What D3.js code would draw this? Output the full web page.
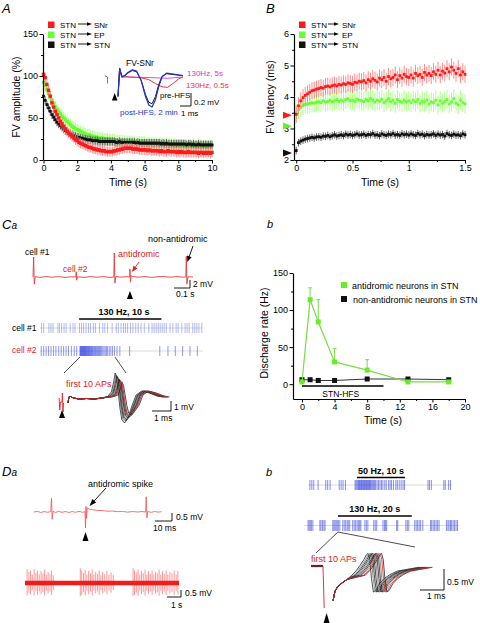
<!DOCTYPE html>
<html><head><meta charset="utf-8">
<script src="https://cdn.jsdelivr.net/npm/d3@7"></script>
<style>body{margin:0;background:#fff}svg{display:block;background:#fff}</style>
</head><body><svg id="c" width="480" height="623"></svg>
<script>
// ================= DATA =================
// Panel A: FV amplitude (%) sampled every 0.1 s, 0..10 s
const stepA = 0.1;
const ampSNr = [102,98,90,83,76,68,63,58,54,50, 46,43,40,37,34,32,30,28,26,24, 23,21,20,19,18,17,16,15,15,14,
  13,13,12,12,11,11,11,10,10,10, 10,10,11,11,12,12,13,13,14,14, 14,14,14,13,13,13,13,12,12,12,
  12,12,11,12,11,11,11,11,11,10, 11,10,10,10,11,10,10,10,10,9, 10,9,10,9,9,9,10,9,9,9, 9,9,8,9,9,8,9,8,9,8, 9];
const ampEP = [92,89,84,79,75,71,67,63,60,57, 55,52,50,48,46,44,42,40,39,37, 36,35,34,33,32,31,30,30,29,28,
  28,27,27,26,26,26,25,25,25,24, 24,24,24,23,23,23,23,23,22,22, 22,22,22,22,21,21,21,21,21,21,
  21,20,20,20,20,20,20,20,19,20, 19,19,19,19,19,19,19,18,19,18, 18,18,18,18,18,18,17,18,17,17, 17,17,17,18,17,17,17,16,17,17, 17];
const ampSTN = [76,71,66,62,58,54,51,48,45,43, 41,39,37,35,34,32,31,30,29,28, 27,27,26,26,25,25,24,24,24,23,
  23,23,23,22,22,22,22,22,22,22, 22,22,22,21,21,22,21,21,21,21, 21,21,21,21,21,20,21,20,20,20,
  20,20,20,20,20,20,20,20,20,20, 19,20,19,20,19,19,19,19,19,19, 19,19,19,19,19,18,19,19,18,19, 18,18,19,18,18,18,18,18,18,18, 18];
const semA = [6, 7, 5];            // SNr, EP, STN
// Panel B: FV latency (ms) sampled every 0.02 s, 0..1.5 s
const stepB = 0.02;
const latSNr = [3.45,3.72,3.88,3.98,4.05,4.1,4.15,4.2,4.22,4.25, 4.27,4.3,4.28,4.33,4.35,4.32,4.36,4.38,4.35,4.4,
  4.38,4.42,4.4,4.45,4.43,4.4,4.47,4.45,4.5,4.48, 4.52,4.45,4.55,4.5,4.58,4.53,4.48,4.6,4.55,4.62,
  4.5,4.65,4.58,4.62,4.7,4.55,4.68,4.6,4.72,4.65, 4.62,4.7,4.6,4.75,4.68,4.72,4.62,4.78,4.7,4.75,
  4.68,4.8,4.72,4.85,4.7,4.82,4.76,4.9,4.8,4.95, 4.85,4.75,4.9,4.7,4.8,4.72];
const latEP = [3.5,3.6,3.68,3.72,3.76,3.78,3.8,3.82,3.8,3.84, 3.85,3.82,3.88,3.84,3.86,3.9,3.85,3.88,3.92,3.86,
  3.9,3.87,3.92,3.95,3.88,3.9,3.86,3.93,3.9,3.88, 3.85,3.92,3.88,3.95,3.9,3.84,3.9,3.87,3.93,3.82,
  3.88,3.95,3.85,3.9,3.8,3.92,3.86,3.83,3.9,3.85, 3.88,3.82,3.9,3.85,3.92,3.8,3.87,3.84,3.9,3.78,
  3.85,3.82,3.9,3.75,3.88,3.8,3.86,3.92,3.78,3.85, 3.95,3.8,3.75,3.9,3.82,3.78];
const latSTN = [2.3,2.55,2.6,2.63,2.66,2.68,2.7,2.72,2.7,2.73, 2.74,2.72,2.76,2.75,2.78,2.74,2.77,2.8,2.76,2.78,
  2.8,2.77,2.82,2.79,2.81,2.78,2.8,2.83,2.79,2.8, 2.82,2.78,2.81,2.8,2.84,2.79,2.8,2.77,2.83,2.8,
  2.78,2.82,2.8,2.84,2.79,2.81,2.78,2.83,2.8,2.82, 2.79,2.83,2.8,2.78,2.84,2.8,2.82,2.77,2.81,2.79,
  2.8,2.83,2.78,2.82,2.79,2.81,2.76,2.84,2.8,2.78, 2.82,2.79,2.8,2.77,2.83,2.8];
const semB = [0.27, 0.3, 0.12];
const preLatency = [3.42, 3.08, 2.22];
const targets = ["SNr", "EP", "STN"];
// Tick labels
const ticksAX = [0,2,4,6,8,10], minorAX = [1,3,5,7,9];
const ticksAY = [0,50,100,150], minorAY = [25,75,125];
const ticksBX = [0,0.5,1,1.5], minorBX = [0.25,0.75,1.25];
const ticksBY = [2,3,4,5,6], minorBY = [2.5,3.5,4.5,5.5];
const ticksCbX = [0,4,8,12,16,20], minorCbX = [2,6,10,14,18];
const ticksCbY = [0,50,100,150], minorCbY = [25,75,125];
// Panel Cb: discharge rate (Hz)
const cbTime = [0,1,2,4,8,13,18];
const cbAnti = [3,114,84,30,19,3,3];
const cbAntiErr = [0,16,30,18,14,0,0];
const cbNon = [6,6,5,5,7,7,6];
const cbHFS = [0,10];
// FV-SNr inset waveforms (ms, mV)
const fvPost = [[0,-0.3],[0.15,0.13],[0.35,0.0],[0.6,0.02],[0.9,0.07],[1.3,0.11],[1.7,0.09],[2.1,-0.05],[2.5,-0.3],[2.8,-0.43],[3.1,-0.46],[3.4,-0.35],[3.7,-0.15],[4.0,0.0],[4.4,0.06],[4.9,0.05],[5.9,0.02]];
const fvPre = [[0,-0.3],[0.15,0.13],[0.35,0.0],[0.6,0.02],[0.9,0.06],[1.3,0.1],[1.7,0.08],[2.1,-0.05],[2.5,-0.27],[2.8,-0.39],[3.1,-0.41],[3.4,-0.3],[3.7,-0.12],[4.0,0.01],[4.4,0.05],[4.9,0.04],[5.9,0.02]];
const fv05 = [[0,-0.3],[0.15,0.12],[0.35,0.0],[1,0.0],[2,-0.01],[2.8,-0.04],[3.4,-0.1],[4.0,-0.15],[4.5,-0.16],[5.0,-0.1],[5.5,-0.03],[5.9,0.0]];
const fv5 = [[0,-0.3],[0.15,0.14],[0.35,0.02],[1,0.0],[3,-0.01],[4.5,-0.02],[5.9,0.0]];
const fvStim = [[-1.2,0.02],[-0.95,0.0],[-0.95,-0.1]];
// Ca: extracellular recording (s, mV)
const caTrace = [[0,0],[0.004,5.0],[0.008,-1.8],[0.014,0.1],[0.04,-0.1],[0.08,0.1],[0.12,-0.05],[0.16,0.1],[0.2,-0.1],[0.24,0.05],[0.268,0],[0.27,1.3],[0.273,-0.8],[0.278,0.05],[0.32,-0.1],[0.36,0.1],[0.4,-0.05],[0.44,0.1],[0.48,-0.1],[0.505,0],[0.508,6.0],[0.512,-1.5],[0.518,0.1],[0.55,-0.05],[0.58,0.1],[0.604,0],[0.606,2.0],[0.609,-1.3],[0.613,0.4],[0.62,0.1],[0.66,-0.05],[0.7,0.1],[0.74,-0.1],[0.78,0.05],[0.82,0.1],[0.86,-0.05],[0.9,0.1],[0.94,-0.05],[0.955,0],[0.958,5.2],[0.962,-1.8],[0.968,0.05],[1.0,0]];
const caStimTime = 0.606;
// Ca rasters (s)
const cell1Spikes = [0.2,0.45,1.1,1.35,1.6,2.2,2.4,2.65,2.95,3.2,3.7,4.05,4.3,4.85,5.1,5.35,5.65,5.95,6.2,6.55,6.8,7.3,7.7,7.95,8.3,8.85,9.35,9.6,9.95,10.25,10.5,10.75,11.1,11.4,11.75,12.05,12.4,12.8,13.35,13.75,14.0,14.25,14.5,14.75,15.0,15.25,15.5,15.95,16.3,16.7,16.95,17.4,17.8,18.05,18.3,18.75,19.0,19.25,19.5,19.85];
const cell2Spikes = [0.15,0.45,0.75,1.05,1.35,1.65,1.95,2.3,2.6,2.9,3.2,3.5,3.85,4.2,4.5,
  4.9,4.96,5.02,5.08,5.14,5.2,5.26,5.32,5.38,5.44,5.5,5.56,5.62,5.68,5.75,5.82,5.89,5.96,6.03,6.1,6.18,6.26,6.34,6.42,6.5,6.6,6.7,6.8,6.9,7.0,7.1,7.2,7.3,7.42,7.55,
  7.7,7.85,8.0,8.15,8.3,8.5,8.7,8.9,9.15,9.45,9.8, 11.0,14.7,15.7,16.6,17.5,18.4,19.3];
const caHFS = [4.8, 14.9];
// Ca: first 10 APs template (ms, mV) and per-trace latency shift / amplitude
const caAP = [[0.32,-0.3],[0.36,0.3],[0.45,0.35],[0.6,0.2],[0.9,0.1],[1.3,0.15],[1.7,0.1],[2.1,0.2],[2.4,0.35],[2.6,0.8],[2.72,1.8],[2.8,2.7],[2.88,2.2],[2.96,0.8],[3.05,-0.8],[3.15,-2.0],[3.3,-2.3],[3.5,-1.6],[3.7,-0.5],[3.9,0.5],[4.2,0.9],[4.6,0.7],[5.0,0.4],[5.3,0.3]];
const caShift = [0,0.04,0.08,0.12,0.16,0.2,0.24,0.3,0.36,0.28];
const caAmp = [1,0.95,0.9,0.86,0.82,0.78,0.74,0.7,0.66,0.72];
const caStim = [[-0.15,0.2],[-0.12,-1.0],[-0.08,-0.2],[0.0,-0.2],[0.02,0.7],[0.05,-1.2],[0.08,-0.3]];
// Da: antidromic spike trace (ms, mV)
const daTrace = [[0,0],[2,0.04],[4,-0.03],[6,0.03],[8,-0.02],[9.8,0.02],[10.3,0.85],[10.7,-0.45],[11.2,0.05],[12.5,-0.03],[14.5,0.04],[16.5,-0.02],[18.5,0.03],[20.5,-0.03],[22.5,0.03],[24.5,-0.02],[26.5,0.04],[28.5,-0.02],[30.0,0.02],[30.3,-1.0],[30.6,0.35],[30.9,-0.4],[31.3,0.25],[32.5,0.18],[34.5,0.14],[37,0.1],[40,0.09],[43,0.05],[46,0.06],[49,0.02],[52,0.04],[55,-0.01],[58,0.03],[61,0.0],[63.5,0.03],[65.7,0.0],[66.0,0.95],[66.4,-0.38],[66.9,0.03],[69,-0.02],[71,0.03],[73,-0.01],[75,0.02]];
const daStimTime = 30.3;
// Da: long recording, spikes [s, up mV, down mV]
const daLongDur = 11;
const daSpikes = [[0.15,1.0,0.9],[0.28,0.8,0.7],[0.4,0.9,0.8],[0.52,0.6,0.5],[0.65,1.0,0.9],[0.78,0.7,0.6],[0.9,0.9,0.85],[1.02,0.6,0.6],[1.15,0.85,0.8],[1.28,0.7,0.65],[1.4,0.95,0.9],[1.52,0.6,0.55],[1.65,0.8,0.75],[1.78,0.65,0.6],[1.9,0.9,0.85],[2.02,0.55,0.5],
  [3.95,1.05,0.95],[4.05,0.9,0.85],[4.18,0.7,0.65],[4.3,0.95,0.9],[4.42,0.6,0.55],[4.55,0.85,0.8],[4.68,0.7,0.6],[4.8,0.95,0.9],[4.92,0.6,0.55],[5.05,0.8,0.75],[5.18,0.65,0.6],[5.3,0.9,0.85],[5.42,0.55,0.5],[5.55,0.8,0.75],[5.7,0.65,0.6],[5.85,0.85,0.8],[6.0,0.6,0.55],[6.15,0.75,0.7],[6.3,0.6,0.5],
  [7.72,1.05,0.95],[7.82,0.9,0.85],[7.95,0.75,0.7],[8.08,0.95,0.9],[8.2,0.6,0.55],[8.32,0.85,0.8],[8.45,0.7,0.65],[8.58,0.95,0.9],[8.7,0.6,0.55],[8.82,0.85,0.8],[8.95,0.65,0.6],[9.08,0.9,0.85],[9.2,0.6,0.55],[9.32,0.8,0.75],[9.45,0.7,0.65],[9.58,0.95,0.9],[9.7,0.6,0.55],[9.82,0.85,0.8],[9.95,0.65,0.6],[10.08,0.9,0.85],[10.2,0.6,0.55],[10.35,0.8,0.75],[10.5,0.7,0.65],[10.65,0.9,0.85],[10.8,0.6,0.55],[10.92,0.85,0.8]];
// Db rasters (s)
const db50Spikes = [0.4,0.8,1.2,2.1, 3.7,4.1,4.6, 6.5,6.9,7.3,7.8, 9.8,10.0,10.2,10.4,10.55,10.7,10.85,11.0,11.15,11.3,11.45,11.6,11.75,11.9,12.05,12.2,12.35,12.5,12.65,12.8,12.95,13.1,13.3,13.5,13.7,13.9,14.1,14.4,14.7,15.0,15.3,15.6,16.0,16.3, 16.8,17.1,17.4,17.8, 18.3,18.6,19.0,19.4,19.8,20.1, 25.0,25.3,25.7, 28.3,28.6,29.3,29.7];
const db50HFS = [10.2, 20.2], db50Dur = 30;
const db130Spikes = [1.1,1.4,1.7,2.0,2.4, 4.3,4.6,5.0,5.4,5.7, 7.8,8.1,8.4,8.7,9.0,9.3,9.7, 10.5,10.9,11.3,11.7,12.0,12.4, 13.2,13.6,14.0,14.4,14.8,15.1,15.4, 16.5,16.9,17.3, 18.9,19.3,19.7, 21.4,21.8,22.1,22.4, 25.1,25.4, 27.6,28.0,28.4, 30.0,30.4,30.8,31.2,31.6,32.2, 34.3,34.6,35.0,35.4,35.8,36.2,36.6, 38.6,39.0,39.3,39.7,40.0,40.4,40.8,41.2,41.6];
const db130HFS = [9.2, 29.2], db130Dur = 42;
// Db: first 10 APs template (ms, mV)
const dbAP = [[0.42,-0.82],[0.5,-0.6],[0.6,-0.5],[0.8,-0.4],[1.0,-0.32],[1.2,-0.22],[1.4,-0.1],[1.55,0.02],[1.7,0.15],[1.8,0.26],[1.88,0.3],[1.95,0.15],[2.02,-0.3],[2.1,-0.62],[2.2,-0.58],[2.35,-0.42],[2.55,-0.3],[2.8,-0.2],[3.1,-0.12],[3.5,-0.08],[4.0,-0.03]];
const dbShift = [0,0.07,0.13,0.19,0.25,0.31,0.37,0.43,0.56,0.5];
const dbPre = [[-0.5,0],[0,0]];
const dbStim = [[0,0],[0.05,-1.0]];

// ================= DRAWING =================
const svg = d3.select("#c");
const FONT = "Liberation Sans, Arial, Helvetica, sans-serif";
const RED = "#ff1a1a", GREEN = "#66ff33", BLACK = "#111";
const seriesCol = [RED, GREEN, BLACK];
const errCol = ["#ff8080", "#a8ff80", "#555"];

function text(x, y, s, o = {}) {
  const t = svg.append("text").attr("x", x).attr("y", y).text(s)
    .attr("font-family", FONT).attr("font-size", o.size || 9).attr("fill", o.color || "#000");
  if (o.anchor) t.attr("text-anchor", o.anchor);
  if (o.weight) t.attr("font-weight", o.weight);
  if (o.italic) t.attr("font-style", "italic");
  if (o.rotate) t.attr("transform", `rotate(-90,${x},${y})`);
  return t;
}
function panelLabel(x, y, big, small) {
  const t = svg.append("text").attr("x", x).attr("y", y).attr("font-family", FONT).attr("font-style", "italic");
  t.append("tspan").text(big).attr("font-size", big === big.toUpperCase() ? 13 : 11);
  if (small) t.append("tspan").text(small).attr("font-size", 10);
}
function axis(type, scale, pos, major, minor, fmt) {
  const mk = type === "x" ? d3.axisBottom : d3.axisLeft;
  const g = svg.append("g").attr("transform", type === "x" ? `translate(0,${pos})` : `translate(${pos},0)`);
  g.call(mk(scale).tickValues(major).tickSize(3.5).tickSizeOuter(0).tickPadding(1.5).tickFormat(fmt || (d => d)));
  if (minor) { const m = g.append("g").call(mk(scale).tickValues(minor).tickSize(2).tickFormat("")); m.select(".domain").remove(); }
  g.attr("font-family", FONT).attr("font-size", 9);
  g.selectAll(".domain").attr("stroke-width", 1.2);
  return g;
}
function arrow(x1, y1, x2, y2, color, h = 6, w = 2.6) {
  const a = Math.atan2(y2 - y1, x2 - x1), c = Math.cos(a), s = Math.sin(a);
  svg.append("line").attr("x1", x1).attr("y1", y1).attr("x2", x2 - h * c * 0.8).attr("y2", y2 - h * s * 0.8)
    .attr("stroke", color).attr("stroke-width", 0.9);
  svg.append("path").attr("d", `M${x2},${y2}L${x2 - h * c + w * s},${y2 - h * s - w * c}L${x2 - h * c - w * s},${y2 - h * s + w * c}Z`).attr("fill", color);
}
function triUp(xc, yTip, w = 6, h = 8, color = "#000") {
  svg.append("path").attr("d", `M${xc},${yTip}L${xc - w / 2},${yTip + h}L${xc + w / 2},${yTip + h}Z`).attr("fill", color);
}
function triRight(xTip, yc, w = 9, h = 7, color = "#000") {
  svg.append("path").attr("d", `M${xTip},${yc}L${xTip - w},${yc - h / 2}L${xTip - w},${yc + h / 2}Z`).attr("fill", color);
}
function trace(data, xs, ys, color, width = 0.9, opacity = 1) {
  svg.append("path").datum(data).attr("d", d3.line().x(d => xs(d[0])).y(d => ys(d[1])))
    .attr("fill", "none").attr("stroke", color).attr("stroke-width", width).attr("stroke-opacity", opacity)
    .attr("stroke-linejoin", "round");
}
function scatter(vals, dt, xs, ys, col, ecol, sem, size) {
  const g = svg.append("g");
  g.selectAll("line").data(vals).join("line")
    .attr("x1", (d, i) => xs(i * dt)).attr("x2", (d, i) => xs(i * dt))
    .attr("y1", d => ys(d - sem)).attr("y2", d => ys(d + sem)).attr("stroke", ecol).attr("stroke-width", 0.9);
  g.selectAll("rect").data(vals).join("rect")
    .attr("x", (d, i) => xs(i * dt) - size / 2).attr("y", d => ys(d) - size / 2)
    .attr("width", size).attr("height", size).attr("fill", col);
}
function legend(x, y0, dy, arrowX1, arrowX2, labelX) {
  targets.forEach((t, i) => {
    const y = y0 + i * dy;
    svg.append("rect").attr("x", x).attr("y", y - 3).attr("width", 6.5).attr("height", 6.5).attr("fill", seriesCol[i]);
    text(x + 12, y + 3.5, "STN", { size: 8 });
    arrow(arrowX1, y - 0.5, arrowX2, y - 0.5, "#000", 5, 1.8);
    text(labelX, y + 3.5, t, { size: 8 });
  });
}
function raster(times, xs, yTop, h, color, op) {
  svg.append("line").attr("x1", xs.range()[0]).attr("x2", xs.range()[1]).attr("y1", yTop + h / 2).attr("y2", yTop + h / 2)
    .attr("stroke", "#c8c8d8").attr("stroke-width", 0.7);
  svg.append("g").selectAll("line").data(times).join("line")
    .attr("x1", d => xs(d)).attr("x2", d => xs(d)).attr("y1", yTop).attr("y2", yTop + h)
    .attr("stroke", color).attr("stroke-width", 1).attr("stroke-opacity", op);
}
function hbar(x1, x2, y, w = 1.6) {
  svg.append("line").attr("x1", x1).attr("x2", x2).attr("y1", y).attr("y2", y).attr("stroke", "#000").attr("stroke-width", w);
}
function scaleBar(xRight, yBottom, wPx, hPx) {
  svg.append("path").attr("d", `M${xRight - wPx},${yBottom}H${xRight}V${yBottom - hPx}`)
    .attr("fill", "none").attr("stroke", "#000").attr("stroke-width", 0.9);
}
function shifted(tpl, shift, amp, split, lo, hi) {
  return tpl.map(([t, v]) => t < split ? [t, v] : [t + shift, (t >= lo && t <= hi) ? v * amp : v]);
}

// ---------- Panel A ----------
panelLabel(2, 13, "A");
const xA = d3.scaleLinear([0, 10], [43.5, 212]);
const yA = d3.scaleLinear([0, 150], [160, 34]);
[ampEP, ampSTN, ampSNr].forEach((vals, k) => {
  const i = [1, 2, 0][k];
  scatter(vals, stepA, xA, yA, seriesCol[i], errCol[i], semA[i], i === 2 ? 2.8 : 3.4);
});
axis("x", xA, 160, ticksAX, minorAX);
axis("y", yA, 43, ticksAY, minorAY);
text(128, 186, "Time (s)", { size: 10.5, anchor: "middle" });
text(20, 97, "FV amplitude (%)", { size: 10.5, anchor: "middle", rotate: true });
legend(48, 24.5, 10, 78, 92, 94);
// inset FV-SNr
const xAi = d3.scaleLinear([0, 1], [118, 129]);
const yAi = d3.scaleLinear([0, 1], [77, 12]);
text(140, 66, "FV-SNr", { size: 8.5, anchor: "middle" });
trace(fvStim, xAi, yAi, "#cc44cc", 1);
trace(fv5, xAi, yAi, "#cc55dd", 1);
trace(fv05, xAi, yAi, "#ee3344", 1);
trace(fvPre, xAi, yAi, "#222", 1);
trace(fvPost, xAi, yAi, "#2233cc", 1.2);
triUp(xAi(-0.3), 93, 5.5, 7.5);
text(187, 76, "130Hz, 5s", { size: 8, color: "#cc44cc" });
text(186, 88, "130Hz, 0.5s", { size: 8, color: "#ee3344" });
text(160, 98, "pre-HFS", { size: 8 });
text(120, 115, "post-HFS, 2 min", { size: 8, color: "#2233cc" });
scaleBar(191, 106, xAi(1) - xAi(0), yAi(0) - yAi(0.2));
text(194, 105, "0.2 mV", { size: 8 });
text(181, 116, "1 ms", { size: 8 });

// ---------- Panel B ----------
panelLabel(266, 13, "B");
const xB = d3.scaleLinear([-0.02, 1.5], [294, 465]);
const yB = d3.scaleLinear([2, 6], [160, 34]);
[latSTN, latEP, latSNr].forEach((vals, k) => {
  const i = [2, 1, 0][k];
  scatter(vals, stepB, xB, yB, seriesCol[i], errCol[i], semB[i], 2.8);
});
axis("x", xB, 160, ticksBX, minorBX);
axis("y", yB, 294, ticksBY, minorBY);
preLatency.forEach((v, i) => triRight(292, yB(v), 9, 7, i === 1 ? "#66ee33" : seriesCol[i]));
text(380, 186, "Time (s)", { size: 10.5, anchor: "middle" });
text(274, 97, "FV latency (ms)", { size: 10.5, anchor: "middle", rotate: true });
legend(299, 24.5, 10, 328, 339, 342);

// ---------- Panel Ca ----------
panelLabel(2, 229, "C", "a");
const xCt = d3.scaleLinear([0, 1], [33, 193]);
const yCt = d3.scaleLinear([0, 1], [277, 273]);
trace(caTrace, xCt, yCt, "#e83a3a", 0.9);
text(25, 255, "cell #1", { size: 8.5 });
text(63, 272, "cell #2", { size: 8.5, color: "#e02020" });
text(118, 257, "antidromic", { size: 9, color: "#e02020" });
arrow(139, 262, xCt(caStimTime) + 2, 272, "#e02020", 6, 2.4);
text(148, 242, "non-antidromic", { size: 9 });
arrow(193, 246, xCt(0.958) + 1, 262, "#000", 6, 2.4);
triUp(xCt(caStimTime), 291, 6, 8);
scaleBar(190, 288, xCt(0.1) - xCt(0), yCt(0) - yCt(2));
text(193, 287, "2 mV", { size: 8.5 });
text(176, 297, "0.1 s", { size: 8.5 });
const xCr = d3.scaleLinear([0, 20], [40, 203]);
text(124, 315, "130 Hz, 10 s", { size: 9, weight: "bold", anchor: "middle" });
hbar(xCr(caHFS[0]), xCr(caHFS[1]), 319);
text(12, 331, "cell #1", { size: 8.5 });
raster(cell1Spikes, xCr, 323, 10, "#6677dd", 0.5);
text(12, 353, "cell #2", { size: 8.5, color: "#e02020" });
raster(cell2Spikes, xCr, 346, 10, "#2233dd", 0.5);
svg.append("line").attr("x1", xCr(cell2Spikes[15])).attr("y1", 357).attr("x2", 64).attr("y2", 373).attr("stroke", "#000").attr("stroke-width", 0.7);
svg.append("line").attr("x1", xCr(9.2)).attr("y1", 357).attr("x2", 126).attr("y2", 373).attr("stroke", "#000").attr("stroke-width", 0.7);
text(66, 387, "first 10 APs", { size: 9, color: "#e02020" });
const xCz = d3.scaleLinear([0, 1], [62, 81]);
const yCz = d3.scaleLinear([0, 1], [400, 390]);
caShift.forEach((s, i) => {
  const col = i === 9 ? "#e02020" : (i % 3 === 1 ? "#777" : "#222");
  trace(shifted(caAP, s, caAmp[i], 2.4, 2.5, 3.6), xCz, yCz, col, 0.8);
});
trace(caStim, xCz, yCz, "#e02020", 0.9);
triUp(xCz(0), 410, 6, 8);
scaleBar(171, 411, xCz(1) - xCz(0), yCz(0) - yCz(1));
text(174, 410, "1 mV", { size: 8.5 });
text(154, 421, "1 ms", { size: 8.5 });

// ---------- Panel Cb ----------
panelLabel(267, 228, "b");
const xCb = d3.scaleLinear([-1.1, 20], [293, 465]);
const yCb = d3.scaleLinear([-20, 150], [399, 273]);
hbar(xCb(cbHFS[0]), xCb(cbHFS[1]), 386, 1.5);
text((xCb(cbHFS[0]) + xCb(cbHFS[1])) / 2 - 2, 397, "STN-HFS", { size: 8.5, anchor: "middle" });
const cbN = cbTime.map((t, i) => [t, cbNon[i]]);
const cbA = cbTime.map((t, i) => [t, cbAnti[i], cbAntiErr[i]]);
trace(cbN, xCb, yCb, "#333", 1);
svg.append("g").selectAll("rect").data(cbN).join("rect").attr("x", d => xCb(d[0]) - 2.5).attr("y", d => yCb(d[1]) - 2.5).attr("width", 5).attr("height", 5).attr("fill", "#111");
svg.append("g").selectAll("path").data(cbA.filter(d => d[2] > 0)).join("path")
  .attr("d", d => `M${xCb(d[0])},${yCb(d[1])}V${yCb(d[1] + d[2])}M${xCb(d[0]) - 2},${yCb(d[1] + d[2])}H${xCb(d[0]) + 2}`)
  .attr("stroke", "#66dd33").attr("stroke-width", 0.9).attr("fill", "none");
trace(cbA, xCb, yCb, "#77dd44", 1.2);
svg.append("g").selectAll("rect").data(cbA).join("rect").attr("x", d => xCb(d[0]) - 2.5).attr("y", d => yCb(d[1]) - 2.5).attr("width", 5).attr("height", 5).attr("fill", "#66ee22");
axis("x", xCb, 399, ticksCbX, minorCbX);
axis("y", yCb, 293, ticksCbY, minorCbY);
text(383, 424, "Time (s)", { size: 10.5, anchor: "middle" });
text(268, 333, "Discharge rate (Hz)", { size: 10.5, anchor: "middle", rotate: true });
svg.append("rect").attr("x", 341).attr("y", 282).attr("width", 6).attr("height", 6).attr("fill", "#66ee22");
text(352, 289, "antidromic neurons in STN", { size: 9 });
svg.append("rect").attr("x", 341).attr("y", 296).attr("width", 6).attr("height", 6).attr("fill", "#111");
text(353, 303, "non-antidromic neurons in STN", { size: 9 });

// ---------- Panel Da ----------
panelLabel(2, 476, "D", "a");
const xDa = d3.scaleLinear([0, 10], [34, 51]);
const yDa = d3.scaleLinear([0, 1], [512, 496]);
trace(daTrace, xDa, yDa, "#f05050", 0.8);
text(88, 487, "antidromic spike", { size: 9 });
arrow(106, 488, xDa(daStimTime) + 4, 506, "#000", 7, 2.6);
triUp(xDa(daStimTime), 532, 6, 9);
scaleBar(172, 521, xDa(10) - xDa(0), yDa(0) - yDa(0.5));
text(176, 520, "0.5 mV", { size: 8.5 });
text(153, 531, "10 ms", { size: 8.5 });
const xDl = d3.scaleLinear([0, 1], [25, 39]);
const yDl = d3.scaleLinear([0, 1], [583, 569]);
svg.append("g").selectAll("line").data(daSpikes).join("line")
  .attr("x1", d => xDl(d[0])).attr("x2", d => xDl(d[0])).attr("y1", d => yDl(d[1])).attr("y2", d => yDl(-d[2]))
  .attr("stroke", "#ff4444").attr("stroke-width", 0.8).attr("stroke-opacity", 0.7);
svg.append("line").attr("x1", xDl(0)).attr("x2", xDl(daLongDur)).attr("y1", yDl(0)).attr("y2", yDl(0))
  .attr("stroke", "#f01c1c").attr("stroke-width", 4.5);
scaleBar(181, 597, xDl(1) - xDl(0), yDl(0) - yDl(0.5));
text(185, 596, "0.5 mV", { size: 8.5 });
text(171, 608, "1 s", { size: 8.5 });

// ---------- Panel Db ----------
panelLabel(266, 476, "b");
const xD1 = d3.scaleLinear([0, db50Dur], [308, 452]);
text((xD1(db50HFS[0]) + xD1(db50HFS[1])) / 2, 474, "50 Hz, 10 s", { size: 9, weight: "bold", anchor: "middle" });
hbar(xD1(db50HFS[0]), xD1(db50HFS[1]), 477.5);
raster(db50Spikes, xD1, 480, 10, "#2233dd", 0.55);
const xD2 = d3.scaleLinear([0, db130Dur], [304, 459]);
text((xD2(db130HFS[0]) + xD2(db130HFS[1])) / 2, 512, "130 Hz, 20 s", { size: 9, weight: "bold", anchor: "middle" });
hbar(xD2(db130HFS[0]), xD2(db130HFS[1]), 516);
raster(db130Spikes, xD2, 520, 11, "#2233dd", 0.55);
svg.append("line").attr("x1", xD2(db130HFS[0])).attr("y1", 532).attr("x2", 316).attr("y2", 553).attr("stroke", "#000").attr("stroke-width", 0.7);
svg.append("line").attr("x1", xD2(db130HFS[0])).attr("y1", 532).attr("x2", 415).attr("y2", 547).attr("stroke", "#000").attr("stroke-width", 0.7);
text(311, 562, "first 10 APs", { size: 9, color: "#e02020" });
const xDz = d3.scaleLinear([0, 1], [323, 347]);
const yDz = d3.scaleLinear([0, 1], [566, 524]);
dbShift.forEach((s, i) => {
  const col = i === 9 ? "#e02020" : (i % 3 === 1 ? "#777" : "#222");
  trace(shifted(dbAP, s, 1, 1.2, 99, 99), xDz, yDz, col, 0.8);
});
trace(dbPre, xDz, yDz, "#222", 2.2);
trace(dbPre, xDz, yDz, "#e02020", 0.8);
trace(dbStim, xDz, yDz, "#e02020", 0.9);
triUp(xDz(0.15), 613, 6, 10);
scaleBar(444, 590, xDz(1) - xDz(0), yDz(0) - yDz(0.5));
text(447, 585, "0.5 mV", { size: 8.5 });
text(427, 599, "1 ms", { size: 8.5 });
</script></body></html>
